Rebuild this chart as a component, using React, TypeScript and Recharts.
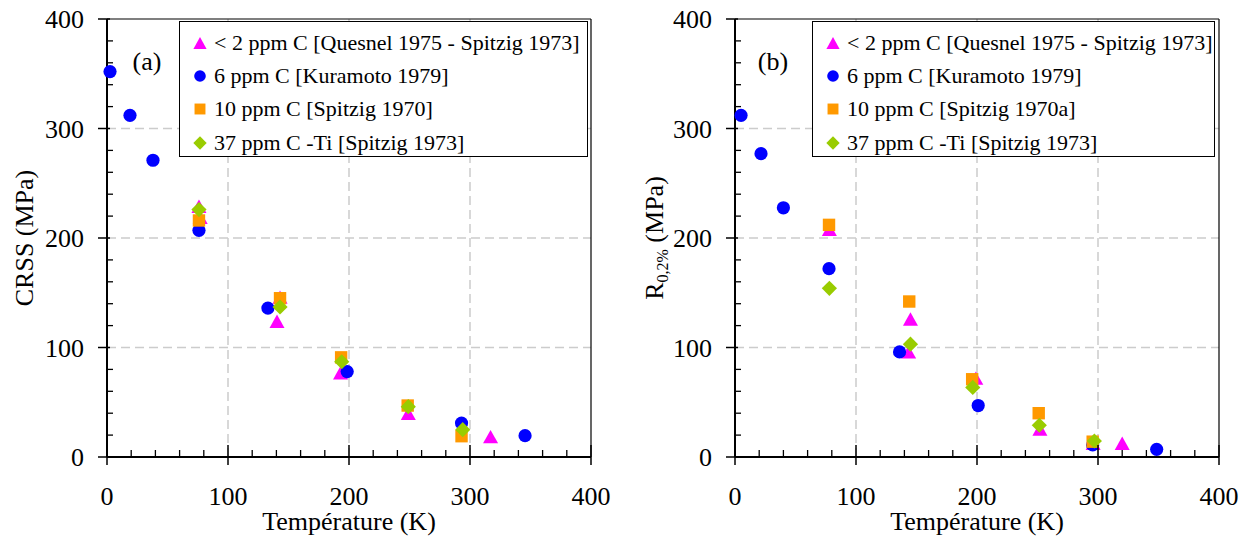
import React from "react";
import { ScatterChart, Scatter, XAxis, YAxis, ReferenceLine } from "recharts";

// ---- data (a) CRSS ----
const a_lt2_T = [76, 77, 143, 140.5, 193, 249, 317];
const a_lt2_V = [229, 219, 146, 124, 77, 40, 18.6];
const a_6_T = [2.5, 19, 38, 76, 133, 198.5, 293, 345.5];
const a_6_V = [352, 312, 271, 207, 136, 78, 31, 19.5];
const a_10_T = [76, 143, 193.5, 248.5, 293];
const a_10_V = [216, 145, 91, 47, 19];
const a_37_T = [76, 143, 194, 249, 294];
const a_37_V = [226, 137, 87, 46, 25];

// ---- data (b) R0,2% ----
const b_lt2_T = [78, 145, 143.5, 199, 252, 296, 320];
const b_lt2_V = [208, 126, 96, 72, 25.6, 12.5, 12.5];
const b_6_T = [5, 21.5, 40, 77.7, 136, 201, 295.6, 348.5];
const b_6_V = [312, 277, 227.6, 172, 96, 47, 11, 7];
const b_10_T = [77.7, 144, 196, 251, 295.6];
const b_10_V = [212, 142, 71, 40, 14];
const b_37_T = [78, 145, 196.5, 251.5, 297];
const b_37_V = [154, 103, 63.5, 29, 14.6];

const namesA = [
  "< 2 ppm C [Quesnel 1975 - Spitzig 1973]",
  "6 ppm C [Kuramoto 1979]",
  "10 ppm C [Spitzig 1970]",
  "37 ppm C -Ti [Spitzig 1973]",
];
const namesB = [
  "< 2 ppm C [Quesnel 1975 - Spitzig 1973]",
  "6 ppm C [Kuramoto 1979]",
  "10 ppm C [Spitzig 1970a]",
  "37 ppm C -Ti [Spitzig 1973]",
];

const TICKS = [0, 20, 40, 60, 80, 100, 120, 140, 160, 180, 200, 220, 240, 260, 280, 300, 320, 340, 360, 380, 400];
const GRID = [100, 200, 300];

const COLORS = ["#ff00ff", "#0000ff", "#ff9900", "#99cc00"];
const FONT = "'Liberation Serif', 'Times New Roman', serif";

const zip = (xs: number[], ys: number[]) => xs.map((x, i) => ({ x, y: ys[i] }));

function Marker({ kind, cx, cy, s = 1 }: { kind: number; cx: number; cy: number; s?: number }) {
  const c = COLORS[kind];
  if (kind === 0) {
    const w = 7.5 * s, h = 6.7 * s;
    return <path d={`M${cx},${cy - h}L${cx + w},${cy + h}L${cx - w},${cy + h}Z`} fill={c} />;
  }
  if (kind === 1) return <circle cx={cx} cy={cy} r={6.6 * s} fill={c} />;
  if (kind === 2) return <rect x={cx - 6.2 * s} y={cy - 6.2 * s} width={12.4 * s} height={12.4 * s} fill={c} />;
  const d = 7.6 * s;
  return <path d={`M${cx},${cy - d}L${cx + d},${cy}L${cx},${cy + d}L${cx - d},${cy}Z`} fill={c} />;
}

const shape = (kind: number) => (p: any) => <Marker kind={kind} cx={p.cx} cy={p.cy} />;

function XTick({ x, y, payload }: any) {
  const v = payload.value;
  if (v % 100 === 0) {
    return (
      <g>
        <line x1={x} x2={x} y1={y - 12} y2={y + 8} stroke="#000" strokeWidth={1.5} />
        <text x={x} y={y + 48} textAnchor="middle" fontSize={26} fontFamily={FONT} fill="#000">{v}</text>
      </g>
    );
  }
  return <line x1={x} x2={x} y1={y - 7} y2={y} stroke="#000" strokeWidth={1.3} />;
}

function YTick({ x, y, payload }: any) {
  const v = payload.value;
  if (v % 100 === 0) {
    return (
      <g>
        <line x1={x - 9} x2={x + 3} y1={y} y2={y} stroke="#000" strokeWidth={1.5} />
        <text x={x - 23} y={y + 9} textAnchor="end" fontSize={26} fontFamily={FONT} fill="#000">{v}</text>
      </g>
    );
  }
  return <line x1={x} x2={x + 6} y1={y} y2={y} stroke="#000" strokeWidth={1.3} />;
}

function LegendBox({ names, left, width }: { names: string[]; left: number; width: number }) {
  return (
    <div
      style={{
        position: "absolute",
        left,
        top: 21,
        width,
        height: 136,
        boxSizing: "border-box",
        border: "1px solid #000",
        background: "#fff",
        paddingTop: 4,
        fontFamily: FONT,
        fontSize: 22,
        color: "#000",
      }}
    >
      {names.map((n, i) => (
        <div key={i} style={{ height: 33.3, display: "flex", alignItems: "center", whiteSpace: "nowrap" }}>
          <svg width={14} height={14} style={{ marginLeft: 13, marginRight: 7, flex: "none" }}>
            <Marker kind={i} cx={7} cy={7} s={0.88} />
          </svg>
          <span>{n}</span>
        </div>
      ))}
    </div>
  );
}

function Panel({ series, names, tag, yLabel, yAxisWidth, width, rightMargin, legendLeft, legendWidth }: any) {
  return (
    <div style={{ position: "relative", width, height: 541 }}>
      <ScatterChart
        width={width}
        height={541}
        margin={{ top: 19, right: rightMargin, bottom: 0, left: 0 }}
        style={{ fontFamily: FONT }}
      >
        {GRID.map((g) => (
          <ReferenceLine key={"x" + g} x={g} stroke="#cccccc" strokeWidth={1.5} strokeDasharray="9 5" />
        ))}
        {GRID.map((g) => (
          <ReferenceLine key={"y" + g} y={g} stroke="#cccccc" strokeWidth={1.5} strokeDasharray="9 5" />
        ))}
        <ReferenceLine y={400} stroke="#000" strokeWidth={1.2} />
        <ReferenceLine x={400} stroke="#000" strokeWidth={1.2} />
        <XAxis
          type="number"
          dataKey="x"
          domain={[0, 400]}
          ticks={TICKS}
          interval={0}
          height={84}
          tickSize={0}
          tickMargin={0}
          tickLine={false}
          tick={<XTick />}
          axisLine={{ stroke: "#000", strokeWidth: 2 }}
          label={{
            content: (p: any) => {
              const vb = p.viewBox;
              return (
                <text x={vb.x + vb.width / 2} y={vb.y + 73} textAnchor="middle" fontSize={26} fontFamily={FONT} fill="#000">
                  Température (K)
                </text>
              );
            },
          }}
        />
        <YAxis
          type="number"
          dataKey="y"
          domain={[0, 400]}
          ticks={TICKS}
          interval={0}
          width={yAxisWidth}
          tickSize={0}
          tickMargin={0}
          tickLine={false}
          tick={<YTick />}
          axisLine={{ stroke: "#000", strokeWidth: 2 }}
          label={{
            content: (p: any) => {
              const vb = p.viewBox;
              return yLabel(vb.x, vb.y + vb.height / 2);
            },
          }}
        />
        {series.map((d: any[], i: number) => (
          <Scatter key={i} name={names[i]} data={d} shape={shape(i)} isAnimationActive={false} />
        ))}
        <text x={147} y={70} textAnchor="middle" fontSize={26} fontFamily={FONT} fill="#000">{tag}</text>
      </ScatterChart>
      <LegendBox names={names} left={legendLeft} width={legendWidth} />
    </div>
  );
}

const seriesA = [zip(a_lt2_T, a_lt2_V), zip(a_6_T, a_6_V), zip(a_10_T, a_10_V), zip(a_37_T, a_37_V)];
const seriesB = [zip(b_lt2_T, b_lt2_V), zip(b_6_T, b_6_V), zip(b_10_T, b_10_V), zip(b_37_T, b_37_V)];

const labelA = (x: number, cy: number) => (
  <text x={x + 33} y={cy} transform={`rotate(-90 ${x + 33} ${cy})`} textAnchor="middle" fontSize={26} fontFamily={FONT} fill="#000">
    CRSS (MPa)
  </text>
);

const labelB = (x: number, cy: number) => (
  <text x={x + 37} y={cy} transform={`rotate(-90 ${x + 37} ${cy})`} textAnchor="middle" fontSize={26} fontFamily={FONT} fill="#000">
    <tspan>R</tspan>
    <tspan fontSize={16} dy={5}>0,2%</tspan>
    <tspan dy={-5}> (MPa)</tspan>
  </text>
);

export default function App() {
  return (
    <div style={{ position: "absolute", left: 0, top: 0, width: 1253, height: 541, background: "#fff" }}>
      <div style={{ position: "absolute", left: 0, top: 0 }}>
        <Panel
          series={seriesA}
          names={namesA}
          tag="(a)"
          yLabel={labelA}
          yAxisWidth={107}
          width={626}
          rightMargin={35}
          legendLeft={179}
          legendWidth={409}
        />
      </div>
      <div style={{ position: "absolute", left: 626, top: 0 }}>
        <Panel
          series={seriesB}
          names={namesB}
          tag="(b)"
          yLabel={labelB}
          yAxisWidth={109}
          width={627}
          rightMargin={34}
          legendLeft={186}
          legendWidth={403}
        />
      </div>
    </div>
  );
}
